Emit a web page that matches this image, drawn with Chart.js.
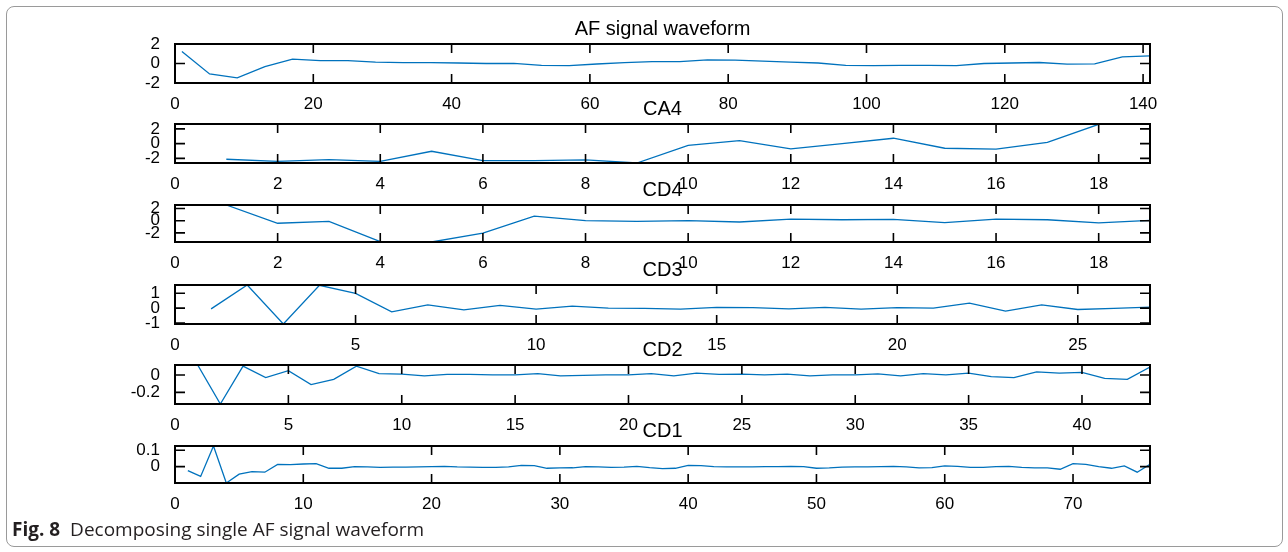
<!DOCTYPE html>
<html>
<head>
<meta charset="utf-8">
<script src="https://cdn.jsdelivr.net/npm/chart.js@4"></script>
<style>
  html, body { margin: 0; padding: 0; background: #fff; }
  #fig { position: relative; width: 1288px; height: 552px; overflow: hidden; }
  .frame { position: absolute; left: 6px; top: 6px; width: 1275px; height: 539px; border: 1px solid #9a9a9a; border-radius: 8px; }
  .panel { position: absolute; left: 0; width: 1288px; }
  .caption { position: absolute; left: 12px; top: 518px; font-family: "Open Sans", sans-serif; font-size: 19px; line-height: 22px; color: #231f20; }
  .caption b { margin-right: 5px; }
</style>
</head>
<body>
<div id="fig">
  <div class="frame"></div>
  <div class="panel" id="p1"><canvas id="c1"></canvas></div>
  <div class="panel" id="p2"><canvas id="c2"></canvas></div>
  <div class="panel" id="p3"><canvas id="c3"></canvas></div>
  <div class="panel" id="p4"><canvas id="c4"></canvas></div>
  <div class="panel" id="p5"><canvas id="c5"></canvas></div>
  <div class="panel" id="p6"><canvas id="c6"></canvas></div>
  <div class="caption"><b>Fig. 8</b> Decomposing single AF signal waveform</div>
</div>
<script>
// AF signal (read every 4th sample off the picture)
const afIndex = [1, 5, 9, 13, 17, 21, 25, 29, 33, 37, 41, 45, 49, 53, 57, 61, 65, 69, 73, 77, 81, 85, 89, 93, 97, 101, 105, 109, 113, 117, 121, 125, 129, 133, 137, 141]
const afSignal = [1.22, -1.07, -1.48, -0.33, 0.44, 0.3, 0.3, 0.15, 0.1, 0.1, 0.05, 0.0, 0.02, -0.2, -0.22, -0.05, 0.1, 0.2, 0.2, 0.37, 0.35, 0.25, 0.15, 0.05, -0.2, -0.22, -0.2, -0.2, -0.22, 0.0, 0.05, 0.1, -0.07, -0.03, 0.67, 0.78]

const ca4 = [-2.12, -2.4, -2.18, -2.4, -1.04, -2.3, -2.3, -2.2, -2.63, -0.23, 0.4, -0.72, 0.0, 0.73, -0.63, -0.76, 0.18, 2.62, 2.66]
const cd4 = [2.58, -0.42, -0.1, -3.44, -3.5, -2.03, 0.76, 0.0, -0.1, 0.0, -0.21, 0.27, 0.16, 0.22, -0.32, 0.27, 0.16, -0.37, 0.05]
const cd3 = [-0.05, 1.55, -1.06, 1.53, 0.99, -0.25, 0.22, -0.12, 0.18, -0.07, 0.13, 0.0, -0.02, -0.07, 0.05, 0.03, -0.05, 0.05, -0.07, 0.03, 0.0, 0.34, -0.2, 0.22, -0.09, -0.02, 0.07]
const cd2 = [0.114, -0.333, 0.1, -0.03, 0.05, -0.11, -0.05, 0.1, 0.016, 0.01, -0.01, 0.006, 0.006, 0.0, 0.0, 0.016, -0.01, -0.005, 0.0, 0.0, 0.016, -0.01, 0.02, 0.006, 0.01, 0.0, 0.01, -0.01, 0.0, 0.0, 0.013, -0.01, 0.016, 0.0, 0.02, -0.02, -0.03, 0.035, 0.02, 0.03, -0.04, -0.05, 0.09]
const cd1 = [-0.024, -0.06, 0.126, -0.1, -0.046, -0.03, -0.034, 0.014, 0.012, 0.016, 0.018, -0.01, -0.01, 0.0, -0.002, -0.004, -0.003, -0.003, -0.002, 0.0,
  0.002, -0.002, -0.003, -0.004, -0.004, -0.002, 0.008, 0.006, -0.01, -0.008, -0.007, 0.0, -0.002, -0.004, -0.003, 0.002, -0.006, -0.012, -0.01, 0.008,
  0.006, 0.0, -0.002, -0.001, -0.002, 0.0, 0.0, 0.002, 0.0, -0.01, -0.008, -0.003, -0.002, -0.002, 0.0, 0.002, -0.002, -0.008, -0.006, 0.004,
  0.002, -0.004, -0.004, 0.0, 0.002, -0.004, -0.008, -0.008, -0.016, 0.018, 0.014, 0.0, -0.01, 0.004, -0.034, 0.014]

// tick labels
const afXTicks = [0, 20, 40, 60, 80, 100, 120, 140]
const afYTicks = [-2, 0, 2]
const ca4XTicks = [0, 2, 4, 6, 8, 10, 12, 14, 16, 18]
const ca4YTicks = [-2, 0, 2]
const cd4XTicks = [0, 2, 4, 6, 8, 10, 12, 14, 16, 18]
const cd4YTicks = [-2, 0, 2]
const cd3XTicks = [0, 5, 10, 15, 20, 25]
const cd3YTicks = [-1, 0, 1]
const cd2XTicks = [0, 5, 10, 15, 20, 25, 30, 35, 40]
const cd2YTicks = [-0.2, 0]
const cd1XTicks = [0, 10, 20, 30, 40, 50, 60, 70]
const cd1YTicks = [0, 0.1]

const lineColor = "#0072BD"
const fontFamily = "'Liberation Sans', Arial, sans-serif"
const titleSize = 20
const tickSize = 17
const titleH = titleSize * 1.2 + 3
const xAxisH = 40

// box round the axes plus MATLAB style inward tick marks
const boxTicks = {
  id: "boxTicks",
  afterDraw(chart) {
    const { ctx, chartArea: a, scales: { x, y } } = chart
    ctx.save()
    ctx.strokeStyle = "#000"
    ctx.lineWidth = 1.6
    ctx.beginPath()
    x.ticks.forEach(t => {
      const px = x.getPixelForValue(t.value)
      ctx.moveTo(px, a.bottom); ctx.lineTo(px, a.bottom - 9)
      ctx.moveTo(px, a.top); ctx.lineTo(px, a.top + 9)
    })
    y.ticks.forEach(t => {
      const py = y.getPixelForValue(t.value)
      ctx.moveTo(a.left, py); ctx.lineTo(a.left + 10, py)
      ctx.moveTo(a.right, py); ctx.lineTo(a.right - 10, py)
    })
    ctx.stroke()
    ctx.lineWidth = 2
    ctx.strokeRect(a.left, a.top, a.right - a.left, a.bottom - a.top)
    ctx.restore()
  }
}

const makePanel = (n, title, xs, ys, xTicks, yTicks, xMax, yMin, yMax, top, bottom) => {
  const holder = document.getElementById("p" + n)
  holder.style.top = (top - titleH) + "px"
  holder.style.height = (titleH + bottom - top + xAxisH) + "px"

  new Chart(document.getElementById("c" + n), {
    type: "line",
    data: {
      datasets: [{
        data: ys.map((v, i) => ({ x: xs[i], y: v })),
        borderColor: lineColor,
        borderWidth: 1.3,
        pointRadius: 0,
        tension: 0,
        fill: false,
      }]
    },
    options: {
      animation: false,
      responsive: true,
      maintainAspectRatio: false,
      layout: { padding: { left: 0, right: 138, top: 0, bottom: 0 } },
      plugins: {
        legend: { display: false },
        tooltip: { enabled: false },
        title: {
          display: true,
          text: title,
          fullSize: false,
          color: "#000",
          font: { family: fontFamily, size: titleSize, weight: "normal" },
          padding: { top: 0, bottom: 3 },
        }
      },
      scales: {
        x: {
          type: "linear",
          min: 0,
          max: xMax,
          grid: { display: false },
          border: { display: false },
          afterBuildTicks: s => { s.ticks = xTicks.map(v => ({ value: v })) },
          afterFit: s => { s.height = xAxisH },
          ticks: { autoSkip: false, maxRotation: 0, padding: 3, color: "#000", font: { family: fontFamily, size: tickSize }, callback: v => String(v) },
        },
        y: {
          type: "linear",
          min: yMin,
          max: yMax,
          grid: { display: false },
          border: { display: false },
          afterBuildTicks: s => { s.ticks = yTicks.map(v => ({ value: v })) },
          afterFit: s => { s.width = 175 },
          ticks: { autoSkip: false, padding: 7, color: "#000", font: { family: fontFamily, size: tickSize }, callback: v => String(v) },
        }
      }
    },
    plugins: [boxTicks]
  })
}

const seq = arr => arr.map((_, i) => i + 1)

makePanel(1, "AF signal waveform", afIndex, afSignal, afXTicks, afYTicks, 141, -2, 2, 44, 83)
makePanel(2, "CA4", seq(ca4), ca4, ca4XTicks, ca4YTicks, ca4.length, Math.min(...ca4), Math.max(...ca4), 124, 163)
makePanel(3, "CD4", seq(cd4), cd4, cd4XTicks, cd4YTicks, cd4.length, Math.min(...cd4), Math.max(...cd4), 205, 242)
makePanel(4, "CD3", seq(cd3), cd3, cd3XTicks, cd3YTicks, cd3.length, Math.min(...cd3), Math.max(...cd3), 285, 324)
makePanel(5, "CD2", seq(cd2), cd2, cd2XTicks, cd2YTicks, cd2.length, Math.min(...cd2), Math.max(...cd2), 365, 404)
makePanel(6, "CD1", seq(cd1), cd1, cd1XTicks, cd1YTicks, cd1.length, Math.min(...cd1), Math.max(...cd1), 446, 483)
</script>
</body>
</html>
